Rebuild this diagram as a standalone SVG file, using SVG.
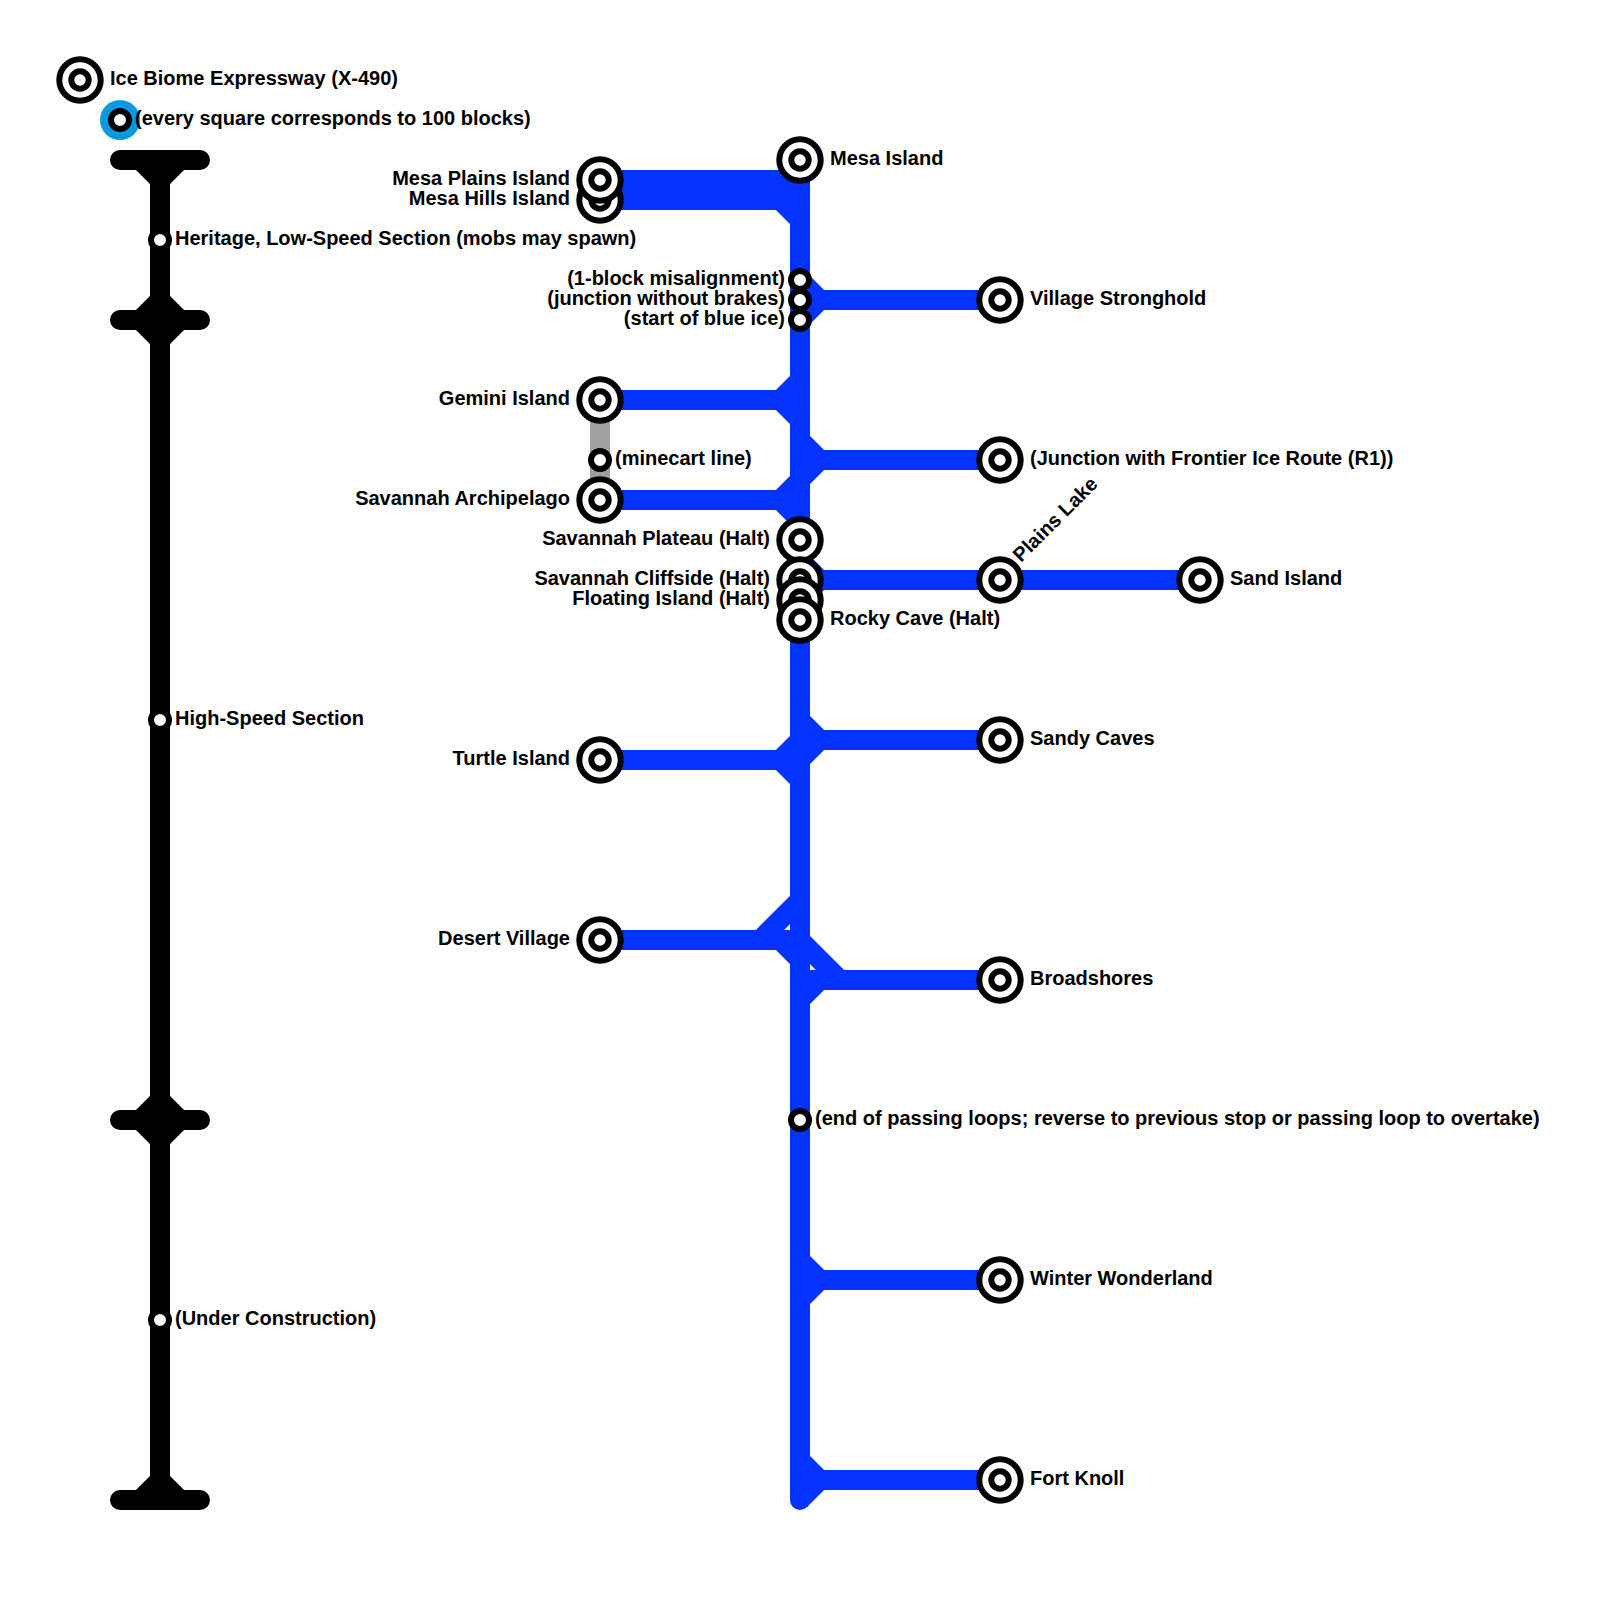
<svg xmlns="http://www.w3.org/2000/svg" width="1600" height="1600" viewBox="0 0 1600 1600">
<style>
.k{fill:none;stroke:#000;stroke-width:20;stroke-linecap:round}
.b{fill:none;stroke:#0433ff;stroke-width:20;stroke-linecap:round}
.d{stroke-linecap:butt}
.g{fill:none;stroke:#a0a0a0;stroke-width:20}
text{font-family:"Liberation Sans",Arial,sans-serif;font-weight:700;font-size:20px;fill:#000}
.e{text-anchor:end}
</style>
<defs>
<g id="big"><circle r="20.7" fill="#fff" stroke="#000" stroke-width="6"/><circle r="8.7" fill="#fff" stroke="#000" stroke-width="6"/></g>
<g id="small"><circle r="9" fill="#fff" stroke="#000" stroke-width="6"/></g>
</defs>
<rect width="1600" height="1600" fill="#fff"/>
<g id="connectors">
<path class="k" d="M160 160V1500M120 160H200M120 320H200M120 1120H200M120 1500H200"/>
<path class="k d" d="M140 160L160 180M180 160L160 180M140 320L160 300M180 320L160 300M140 320L160 340M180 320L160 340M140 1120L160 1100M180 1120L160 1100M140 1120L160 1140M180 1120L160 1140M140 1500L160 1480M180 1500L160 1480"/>
<path class="g" d="M600 400V500"/>
<path class="b" d="M800 160V1500"/>
<path class="b d" d="M600 180H800M600 200H800M800 300H1000M600 400H800M800 460H1000M600 500H800M800 580H1200M800 740H1000M600 760H800M600 940H800M800 980H1000M800 1280H1000M800 1480H1000"/>
<path class="b d" d="M780 200L800 220M800 280L820 300M800 320L820 300M780 400L800 380M780 400L800 420M820 460L800 440M820 460L800 480M780 500L800 480M780 500L800 520M820 580L800 560M820 580L800 600M820 740L800 720M820 740L800 760M780 760L800 740M780 760L800 780M760 940L800 900M780 940L800 960M840 980L800 940M820 980L800 1000M820 1280L800 1260M820 1280L800 1300M820 1480L800 1460M820 1480L800 1500"/>
</g>
<g id="legend-title"><use href="#big" x="80" y="80"/><text x="110" y="85">Ice Biome Expressway (X-490)</text></g>
<g id="legend-scale"><circle cx="120" cy="120" r="20" fill="#0c98dc"/><use href="#small" x="120" y="120"/><text x="135" y="125">(every square corresponds to 100 blocks)</text></g>
<g id="heritage"><use href="#small" x="160" y="240"/><text x="175" y="245">Heritage, Low-Speed Section (mobs may spawn)</text></g>
<g id="high-speed"><use href="#small" x="160" y="720"/><text x="175" y="725">High-Speed Section</text></g>
<g id="under-construction"><use href="#small" x="160" y="1320"/><text x="175" y="1325">(Under Construction)</text></g>
<g id="mesa-hills"><use href="#big" x="600" y="200"/><text class="e" x="570" y="205">Mesa Hills Island</text></g>
<g id="mesa-plains"><use href="#big" x="600" y="180"/><text class="e" x="570" y="185">Mesa Plains Island</text></g>
<g id="mesa-island"><use href="#big" x="800" y="160"/><text x="830" y="165">Mesa Island</text></g>
<g id="misalignment"><use href="#small" x="800" y="280"/><text class="e" x="785" y="285">(1-block misalignment)</text></g>
<g id="junction-no-brakes"><use href="#small" x="800" y="300"/><text class="e" x="785" y="305">(junction without brakes)</text></g>
<g id="blue-ice"><use href="#small" x="800" y="320"/><text class="e" x="785" y="325">(start of blue ice)</text></g>
<g id="village-stronghold"><use href="#big" x="1000" y="300"/><text x="1030" y="305">Village Stronghold</text></g>
<g id="gemini"><use href="#big" x="600" y="400"/><text class="e" x="570" y="405">Gemini Island</text></g>
<g id="minecart"><use href="#small" x="600" y="460"/><text x="615" y="465">(minecart line)</text></g>
<g id="savannah-archipelago"><use href="#big" x="600" y="500"/><text class="e" x="570" y="505">Savannah Archipelago</text></g>
<g id="frontier"><use href="#big" x="1000" y="460"/><text x="1030" y="465">(Junction with Frontier Ice Route (R1))</text></g>
<g id="savannah-plateau"><use href="#big" x="800" y="540"/><text class="e" x="770" y="545">Savannah Plateau (Halt)</text></g>
<g id="savannah-cliffside"><use href="#big" x="800" y="580"/><text class="e" x="770" y="585">Savannah Cliffside (Halt)</text></g>
<g id="floating-island"><use href="#big" x="800" y="600"/><text class="e" x="770" y="605">Floating Island (Halt)</text></g>
<g id="rocky-cave"><use href="#big" x="800" y="620"/><text x="830" y="625">Rocky Cave (Halt)</text></g>
<g id="plains-lake"><use href="#big" x="1000" y="580"/><text transform="translate(1021 563) rotate(-45)">Plains Lake</text></g>
<g id="sand-island"><use href="#big" x="1200" y="580"/><text x="1230" y="585">Sand Island</text></g>
<g id="sandy-caves"><use href="#big" x="1000" y="740"/><text x="1030" y="745">Sandy Caves</text></g>
<g id="turtle"><use href="#big" x="600" y="760"/><text class="e" x="570" y="765">Turtle Island</text></g>
<g id="desert-village"><use href="#big" x="600" y="940"/><text class="e" x="570" y="945">Desert Village</text></g>
<g id="broadshores"><use href="#big" x="1000" y="980"/><text x="1030" y="985">Broadshores</text></g>
<g id="end-loops"><use href="#small" x="800" y="1120"/><text x="815" y="1125">(end of passing loops; reverse to previous stop or passing loop to overtake)</text></g>
<g id="winter"><use href="#big" x="1000" y="1280"/><text x="1030" y="1285">Winter Wonderland</text></g>
<g id="fort-knoll"><use href="#big" x="1000" y="1480"/><text x="1030" y="1485">Fort Knoll</text></g>
</svg>
